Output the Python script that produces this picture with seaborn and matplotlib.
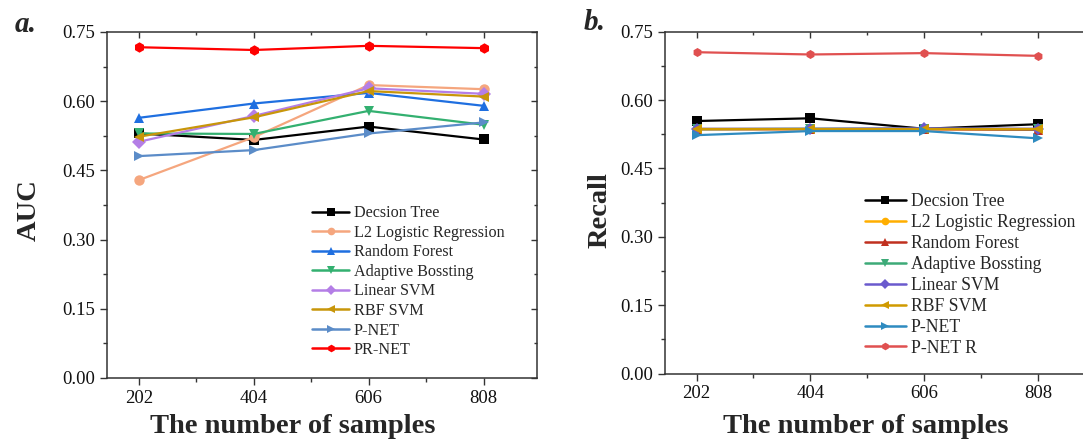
import matplotlib
matplotlib.use("Agg")
import matplotlib.pyplot as plt
import seaborn as sns
import pandas as pd

samples = [202, 404, 606, 808]

auc_models = ["Decsion Tree", "L2 Logistic Regression", "Random Forest", "Adaptive Bossting",
              "Linear SVM", "RBF SVM", "P-NET", "PR-NET"]
auc_dt = [0.530, 0.516, 0.545, 0.517]
auc_l2 = [0.429, 0.522, 0.635, 0.626]
auc_rf = [0.564, 0.595, 0.618, 0.590]
auc_ab = [0.530, 0.529, 0.579, 0.549]
auc_lsvm = [0.512, 0.568, 0.628, 0.616]
auc_rbf = [0.523, 0.565, 0.622, 0.610]
auc_pnet = [0.481, 0.494, 0.530, 0.554]
auc_prnet = [0.717, 0.711, 0.720, 0.715]

rec_models = ["Decsion Tree", "L2 Logistic Regression", "Random Forest", "Adaptive Bossting",
              "Linear SVM", "RBF SVM", "P-NET", "P-NET R"]
rec_dt = [0.554, 0.560, 0.537, 0.547]
rec_l2 = [0.536, 0.536, 0.536, 0.535]
rec_rf = [0.536, 0.536, 0.536, 0.535]
rec_ab = [0.536, 0.537, 0.537, 0.536]
rec_lsvm = [0.537, 0.537, 0.538, 0.537]
rec_rbf = [0.536, 0.536, 0.536, 0.536]
rec_pnet = [0.523, 0.532, 0.532, 0.516]
rec_pnetr = [0.705, 0.700, 0.703, 0.697]

y_ticks = [0.00, 0.15, 0.30, 0.45, 0.60, 0.75]

auc_colors = ["#000000", "#F5A67E", "#1F6FE0", "#33B070", "#B47EE6", "#C8960A", "#5B8CC8", "#FF0000"]
rec_colors = ["#000000", "#FFAE00", "#C0301F", "#3DAA78", "#6A5ACD", "#D09A00", "#2E8BC0", "#E05050"]
marker_list = ["s", "o", "^", "v", "D", "<", ">", "h"]

sns.set_style("ticks")
plt.rcParams["font.family"] = ["Liberation Serif", "DejaVu Serif"]
plt.rcParams["mathtext.fontset"] = "stix"

fig = plt.figure(figsize=(10.83, 4.42), dpi=100)
W, H = 1083, 442


def box(l, t, r, b):
    return [l / W, 1 - b / H, (r - l) / W, (b - t) / H]


def build(models, series):
    rows = []
    for m, vals in zip(models, series):
        for s, v in zip(samples, vals):
            rows.append({"samples": s, "value": v, "model": m})
    return pd.DataFrame(rows)


def draw(ax, df, models, colors, ylabel, xlab_pos, ylab_pos, leg_anchor, leg_fs, msize):
    sns.lineplot(data=df, x="samples", y="value", hue="model", style="model",
                 hue_order=models, style_order=models,
                 palette=dict(zip(models, colors)),
                 markers=dict(zip(models, marker_list)), dashes=False,
                 markersize=msize, linewidth=1.6, markeredgewidth=0, ax=ax, legend=True)
    ax.set_xlim(146, 902)
    ax.set_ylim(0, 0.75)
    ax.set_xticks(samples)
    ax.set_xticks([303, 505, 707], minor=True)
    ax.set_yticks(y_ticks)
    ax.set_yticks([0.075, 0.225, 0.375, 0.525, 0.675], minor=True)
    ax.set_yticklabels([f"{v:.2f}" for v in y_ticks])
    ax.tick_params(which="major", direction="out", length=5, width=1.0, labelsize=13.5,
                   colors="#333333", labelcolor="#111111")
    ax.tick_params(which="minor", direction="out", length=3, width=1.0, colors="#333333")
    for sp in ax.spines.values():
        sp.set_color("#333333")
        sp.set_linewidth(1.1)
    ax.set_xlabel("The number of samples", fontsize=20.5, fontweight="bold")
    ax.set_ylabel(ylabel, fontsize=20.5, fontweight="bold")
    ax.xaxis.set_label_coords(*xlab_pos)
    ax.yaxis.set_label_coords(*ylab_pos)
    # mirrored inward ticks on top and right
    top = ax.secondary_xaxis("top")
    top.set_xticks(samples)
    top.set_xticks([303, 505, 707], minor=True)
    top.tick_params(which="major", direction="in", length=4, width=1.0, labeltop=False, colors="#333333")
    top.tick_params(which="minor", direction="in", length=2.5, width=1.0, colors="#333333")
    top.spines["top"].set_visible(False)
    right = ax.secondary_yaxis("right")
    right.set_yticks(y_ticks)
    right.set_yticks([0.075, 0.225, 0.375, 0.525, 0.675], minor=True)
    right.tick_params(which="major", direction="in", length=4, width=1.0, labelright=False, colors="#333333")
    right.tick_params(which="minor", direction="in", length=2.5, width=1.0, colors="#333333")
    right.spines["right"].set_visible(False)

    handles, labels = ax.get_legend_handles_labels()
    leg = ax.legend(handles, labels, loc="center left", bbox_to_anchor=leg_anchor,
                    bbox_transform=fig.transFigure, frameon=False, fontsize=leg_fs,
                    borderpad=0, borderaxespad=0, labelspacing=0.22,
                    handlelength=2.3, handletextpad=0.3)
    for ln in leg.get_lines():
        ln.set_markersize(5.5)
        ln.set_linewidth(1.8)
    return ax


ax1 = fig.add_axes(box(107, 32, 537, 378))
df1 = build(auc_models, [auc_dt, auc_l2, auc_rf, auc_ab, auc_lsvm, auc_rbf, auc_pnet, auc_prnet])
draw(ax1, df1, auc_models, auc_colors, "AUC", (0.433, -0.103), (-0.151, 0.486),
     (312 / W, 1 - 281.7 / H), 11.6, 7.5)

ax2 = fig.add_axes(box(665, 31.7, 1091, 373.5))
df2 = build(rec_models, [rec_dt, rec_l2, rec_rf, rec_ab, rec_lsvm, rec_rbf, rec_pnet, rec_pnetr])
draw(ax2, df2, rec_models, rec_colors, "Recall", (0.472, -0.118), (-0.122, 0.477),
     (865 / W, 1 - 275 / H), 12.7, 6.5)

fig.text(15 / W, 1 - 25 / H, "a.", fontsize=21, fontweight="bold", fontstyle="italic", va="center")
fig.text(584 / W, 1 - 23 / H, "b.", fontsize=21, fontweight="bold", fontstyle="italic", va="center")

fig.savefig("out.png", dpi=100)
